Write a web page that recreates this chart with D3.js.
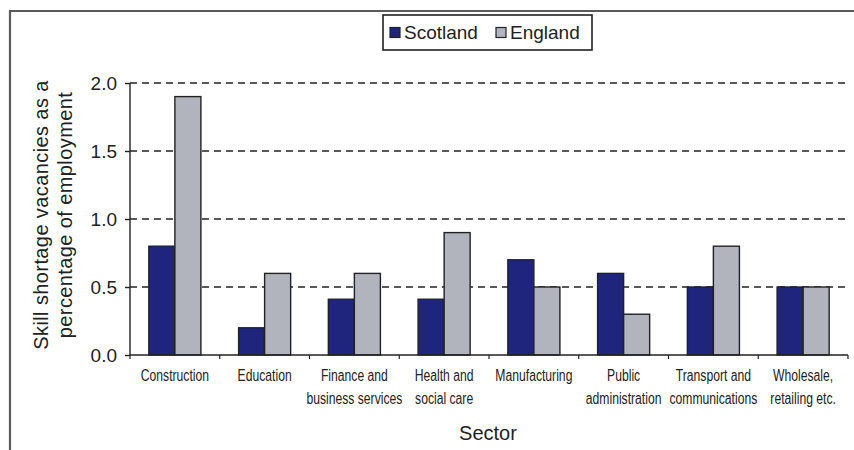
<!DOCTYPE html>
<html>
<head>
<meta charset="utf-8">
<script src="https://cdn.jsdelivr.net/npm/d3@7"></script>
<style>
  html, body { margin: 0; padding: 0; background: #fff; }
  svg { display: block; font-family: Arial, "Liberation Sans", sans-serif; }
</style>
</head>
<body>
<svg id="chart" width="854" height="450"></svg>
<script>
const categories = [
  ["Construction"],
  ["Education"],
  ["Finance and", "business services"],
  ["Health and", "social care"],
  ["Manufacturing"],
  ["Public", "administration"],
  ["Transport and", "communications"],
  ["Wholesale,", "retailing etc."]
];
const seriesNames = ["Scotland", "England"];
const scotland = [0.8, 0.2, 0.41, 0.41, 0.7, 0.6, 0.5, 0.5];
const england  = [1.9, 0.6, 0.6, 0.9, 0.5, 0.3, 0.8, 0.5];
const yTicks = [0.0, 0.5, 1.0, 1.5, 2.0];
const colors = ["#1f247d", "#b1b4bc"];

(function () {
const svg = d3.select("#chart");
const pL = 130, pR = 848, pT = 83, pB = 355;

// outer frame (image cropped on right/bottom)
svg.append("path")
  .attr("d", "M10,450 L10,11 L854,11")
  .attr("fill", "none").attr("stroke", "#5a5a5a").attr("stroke-width", 2.2);

const x = d3.scaleBand().domain(d3.range(categories.length)).range([pL, pR]).padding(0);
const y = d3.scaleLinear().domain([0, 2]).range([pB, pT]);
const groupW = x.bandwidth() * 0.58;
const x1 = d3.scaleBand().domain([0, 1]).range([0, groupW]).padding(0);

// gridlines
svg.append("g").selectAll("line").data(yTicks.filter(d => d > 0)).join("line")
  .attr("x1", pL).attr("x2", pR)
  .attr("y1", d => y(d)).attr("y2", d => y(d))
  .attr("stroke", "#222").attr("stroke-width", 1.4).attr("stroke-dasharray", "7,5");

// bars
const data = [scotland, england];
const g = svg.append("g");
categories.forEach((c, i) => {
  const gx = x(i) + (x.bandwidth() - groupW) / 2;
  data.forEach((vals, s) => {
    g.append("rect")
      .attr("x", gx + x1(s))
      .attr("y", y(vals[i]))
      .attr("width", x1.bandwidth())
      .attr("height", y(0) - y(vals[i]))
      .attr("fill", colors[s])
      .attr("stroke", "#222").attr("stroke-width", 1.4);
  });
});

// y axis
const yAxis = d3.axisLeft(y).tickValues(yTicks).tickFormat(d3.format(".1f")).tickSize(5).tickPadding(8);
const ya = svg.append("g").attr("transform", `translate(${pL},0)`).call(yAxis);
ya.select(".domain").attr("stroke", "#222").attr("stroke-width", 1.4).attr("d", `M0,${pT}V${pB}`);
ya.selectAll(".tick line").attr("stroke", "#222").attr("stroke-width", 1.4);
ya.selectAll(".tick text").attr("font-size", 19).attr("fill", "#222")
  .attr("font-family", "Arial, 'Liberation Sans', sans-serif");

// x axis
svg.append("line").attr("x1", pL).attr("x2", pR).attr("y1", pB).attr("y2", pB)
  .attr("stroke", "#222").attr("stroke-width", 1.4);
svg.append("g").selectAll("line").data(d3.range(categories.length + 1)).join("line")
  .attr("x1", d => pL + d * x.bandwidth()).attr("x2", d => pL + d * x.bandwidth())
  .attr("y1", pB).attr("y2", pB + 4)
  .attr("stroke", "#222").attr("stroke-width", 1.2);

const xt = svg.append("g");
categories.forEach((lines, i) => {
  const cx = x(i) + x.bandwidth() / 2;
  const t = xt.append("g").attr("transform", `translate(${cx},381) scale(0.76,1)`)
    .append("text")
    .attr("text-anchor", "middle").attr("font-size", 16).attr("fill", "#222");
  lines.forEach((ln, k) => {
    t.append("tspan").attr("x", 0).attr("y", k * 23).text(ln);
  });
});

// axis titles
svg.append("text").attr("x", 488).attr("y", 440).attr("text-anchor", "middle")
  .attr("font-size", 20).attr("fill", "#222").text("Sector");

const yl = svg.append("text").attr("transform", "translate(48,215) rotate(-90)")
  .attr("text-anchor", "middle").attr("font-size", 20).attr("letter-spacing", 0.4).attr("fill", "#222");
yl.append("tspan").attr("x", 0).attr("dy", 0).text("Skill shortage vacancies as a");
yl.append("tspan").attr("x", 0).attr("dy", 24).text("percentage of employment");

// legend
const lg = svg.append("g");
lg.append("rect").attr("x", 383).attr("y", 15).attr("width", 209).attr("height", 35)
  .attr("fill", "#fff").attr("stroke", "#222").attr("stroke-width", 1.6);
const legX = [390, 496];
seriesNames.forEach((n, s) => {
  lg.append("rect").attr("x", legX[s]).attr("y", 27.5).attr("width", 10).attr("height", 10)
    .attr("fill", colors[s]).attr("stroke", "#222").attr("stroke-width", 1.2);
  lg.append("text").attr("x", legX[s] + 14).attr("y", 38.5)
    .attr("font-size", 19).attr("fill", "#222").text(n);
});
})();
</script>
</body>
</html>
